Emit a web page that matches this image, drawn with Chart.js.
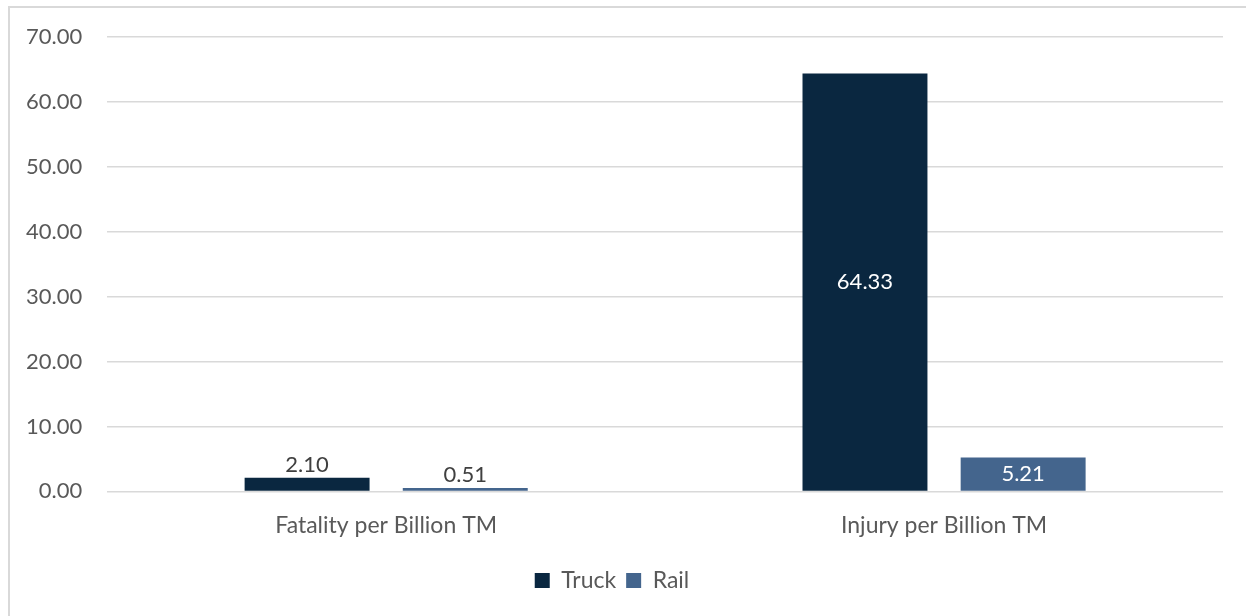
<!DOCTYPE html>
<html>
<head>
<meta charset="utf-8">
<script src="https://cdn.jsdelivr.net/npm/chart.js@4/dist/chart.umd.min.js"></script>
<style>
  html, body { margin: 0; padding: 0; background: #fff; }
  #frame {
    position: absolute; left: 8px; top: 6px;
    width: 1260px; height: 640px;
    border: 2px solid #d9d9d9;
  }
  #wrap { position: absolute; left: 0; top: 0; width: 1246px; height: 616px; }
</style>
</head>
<body>
<div id="frame"></div>
<div id="wrap"><canvas id="chart"></canvas></div>
<script>
const categories = ['Fatality per Billion TM', 'Injury per Billion TM'];
const truckValues = [2.10, 64.33];
const railValues = [0.51, 5.21];
const yTicks = [0, 10, 20, 30, 40, 50, 60, 70];

const textColor = '#595959';
const fontFamily = 'Lato, "Open Sans", sans-serif';

// value labels: inside the bar (white) when it is tall enough, above it otherwise
const barLabels = {
    id: 'barLabels',
    afterDatasetsDraw(chart) {
        const ctx = chart.ctx;
        ctx.save();
        ctx.font = '22px ' + fontFamily;
        ctx.textAlign = 'center';
        ctx.textBaseline = 'middle';
        chart.data.datasets.forEach((ds, i) => {
            chart.getDatasetMeta(i).data.forEach((bar, j) => {
                const text = ds.data[j].toFixed(2);
                const h = bar.base - bar.y;
                if (h > 28) {
                    ctx.fillStyle = '#ffffff';
                    ctx.fillText(text, bar.x, (bar.y + bar.base) / 2);
                } else {
                    ctx.fillStyle = '#404040';
                    ctx.fillText(text, bar.x, bar.y - 13);
                }
            });
        });
        ctx.restore();
    }
};

const yFont = { family: fontFamily, size: 22, lineHeight: 1.05 };
const xFont = { family: fontFamily, size: 23 };

new Chart(document.getElementById('chart'), {
    type: 'bar',
    data: {
        labels: categories,
        datasets: [{
            label: 'Truck',
            data: truckValues,
            backgroundColor: '#0a2740',
            categoryPercentage: 0.567,
            barPercentage: 0.79
        }, {
            label: 'Rail',
            data: railValues,
            backgroundColor: '#44658d',
            categoryPercentage: 0.567,
            barPercentage: 0.79
        }]
    },
    options: {
        responsive: true,
        maintainAspectRatio: false,
        animation: false,
        layout: { padding: { left: 1, right: 23, top: 15, bottom: 14 } },
        scales: {
            x: {
                grid: { display: false, drawTicks: false },
                border: { display: false },
                ticks: { color: textColor, font: xFont, padding: 20 }
            },
            y: {
                min: 0,
                max: 70,
                afterBuildTicks: (axis) => { axis.ticks = yTicks.map(v => ({ value: v })); },
                grid: { color: '#d9d9d9', lineWidth: 1.5, drawTicks: false },
                border: { display: false },
                ticks: {
                    color: textColor,
                    font: yFont,
                    padding: 25,
                    callback: (v) => Number(v).toFixed(2)
                }
            }
        },
        plugins: {
            tooltip: { enabled: false },
            legend: {
                position: 'bottom',
                labels: {
                    color: textColor,
                    font: xFont,
                    boxWidth: 15,
                    boxHeight: 15,
                    padding: 10
                }
            }
        }
    },
    plugins: [barLabels]
});
</script>
</body>
</html>
